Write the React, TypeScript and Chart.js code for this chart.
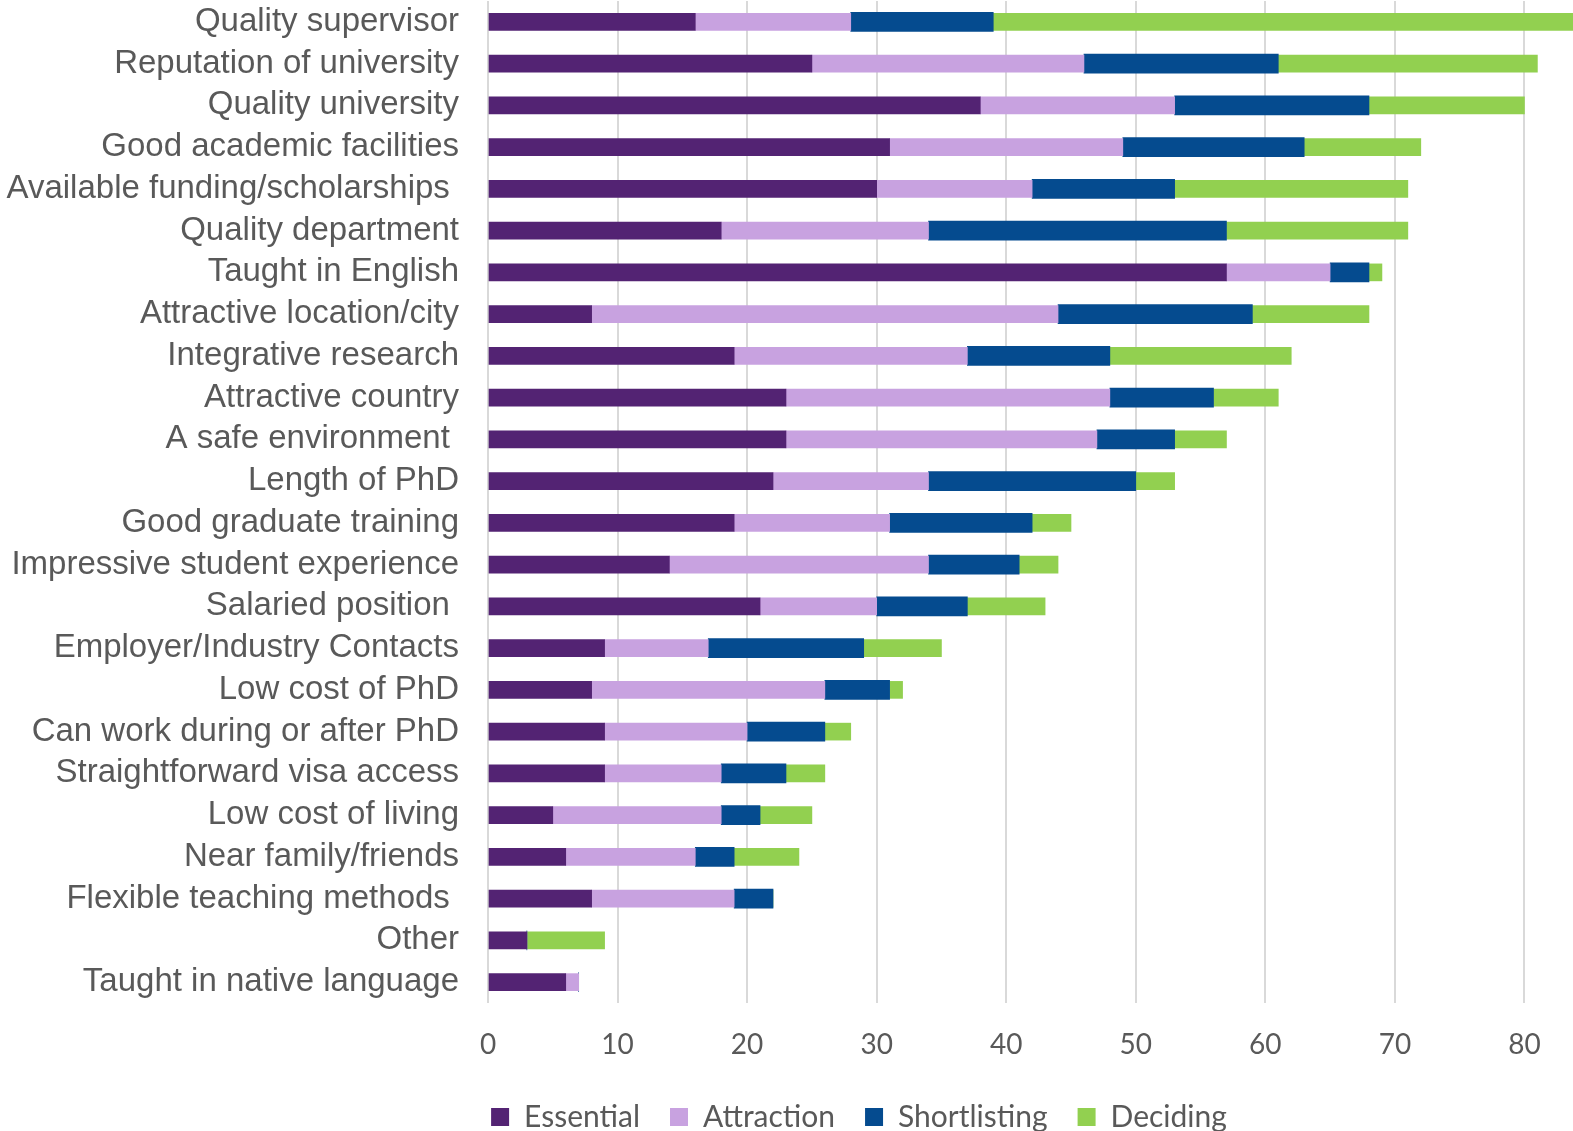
import React, { useEffect, useRef } from "react";
import { Chart, registerables } from "chart.js";

Chart.register(...registerables);

const categories = [
  "Quality supervisor",
  "Reputation of university",
  "Quality university",
  "Good academic facilities",
  "Available funding/scholarships ",
  "Quality department",
  "Taught in English",
  "Attractive location/city",
  "Integrative research",
  "Attractive country",
  "A safe environment ",
  "Length of PhD",
  "Good graduate training",
  "Impressive student experience",
  "Salaried position ",
  "Employer/Industry Contacts",
  "Low cost of PhD",
  "Can work during or after PhD",
  "Straightforward visa access",
  "Low cost of living",
  "Near family/friends",
  "Flexible teaching methods ",
  "Other",
  "Taught in native language",
];

const essential = [16, 25, 38, 31, 30, 18, 57, 8, 19, 23, 23, 22, 19, 14, 21, 9, 8, 9, 9, 5, 6, 8, 3, 6];
const attraction = [12, 21, 15, 18, 12, 16, 8, 36, 18, 25, 24, 12, 12, 20, 9, 8, 18, 11, 9, 13, 10, 11, 0, 1];
const shortlisting = [11, 15, 15, 14, 11, 23, 3, 15, 11, 8, 6, 16, 11, 7, 7, 12, 5, 6, 5, 3, 3, 3, 0, 0];
const deciding = [45, 20, 12, 9, 18, 14, 1, 9, 14, 5, 4, 3, 3, 3, 6, 6, 1, 2, 3, 4, 5, 0, 6, 0];

const seriesNames = ["Essential", "Attraction", "Shortlisting", "Deciding"];
const seriesColors = ["#532373", "#c8a2e0", "#054b8f", "#92d050"];
const xMin = 0;
const xMax = 90;
const xStep = 10;

const legendShift = {
  id: "legendShift",
  afterLayout(chart: any) {
    const lg = chart.legend;
    if (!lg) return;
    lg.left += 32;
    lg.right += 32;
    lg.top += 11;
    lg.bottom += 11;
  },
};

export default function App() {
  const canvasRef = useRef<HTMLCanvasElement | null>(null);

  useEffect(() => {
    if (!canvasRef.current) return;
    const values = [essential, attraction, shortlisting, deciding];
    const chart = new Chart(canvasRef.current, {
      type: "bar",
      data: {
        labels: categories,
        datasets: values.map((v, i) => ({
          label: seriesNames[i],
          data: v,
          backgroundColor: seriesColors[i],
          borderWidth: 0,
          barThickness: i === 2 ? 19 : 17,
        })),
      },
      plugins: [legendShift],
      options: {
        indexAxis: "y",
        responsive: false,
        animation: false,
        layout: { padding: { top: 1, right: 98, left: 0, bottom: 0 } },
        scales: {
          x: {
            stacked: true,
            min: xMin,
            max: xMax,
            ticks: {
              stepSize: xStep,
              color: "#595959",
              font: { family: "Lato", size: 28 },
              padding: 25,
            },
            grid: { color: "#d9d9d9", lineWidth: 2, drawTicks: false },
            border: { display: false },
            afterFit: (s: any) => {
              s.height = 58;
            },
          },
          y: {
            stacked: true,
            ticks: {
              color: "#595959",
              font: { family: "'Liberation Sans', Arial, sans-serif", size: 33 },
              padding: 29,
              autoSkip: false,
            },
            grid: { display: false, drawTicks: false },
            border: { display: false },
            afterFit: (s: any) => {
              s.width = 488;
              s.paddingTop = 0;
              s.paddingBottom = 0;
            },
          },
        },
        plugins: {
          legend: {
            position: "bottom",
            maxHeight: 71,
            labels: {
              color: "#595959",
              font: { family: "Lato", size: 30 },
              boxWidth: 18,
              boxHeight: 18,
              padding: 30,
            },
          },
          tooltip: { enabled: false },
        },
      },
    });
    return () => chart.destroy();
  }, []);

  return (
    <div
      style={{
        position: "fixed",
        left: 0,
        top: 0,
        width: 1573,
        height: 1131,
        overflow: "hidden",
        background: "#ffffff",
      }}
    >
      <canvas ref={canvasRef} width={1752} height={1131} style={{ display: "block" }} />
    </div>
  );
}
